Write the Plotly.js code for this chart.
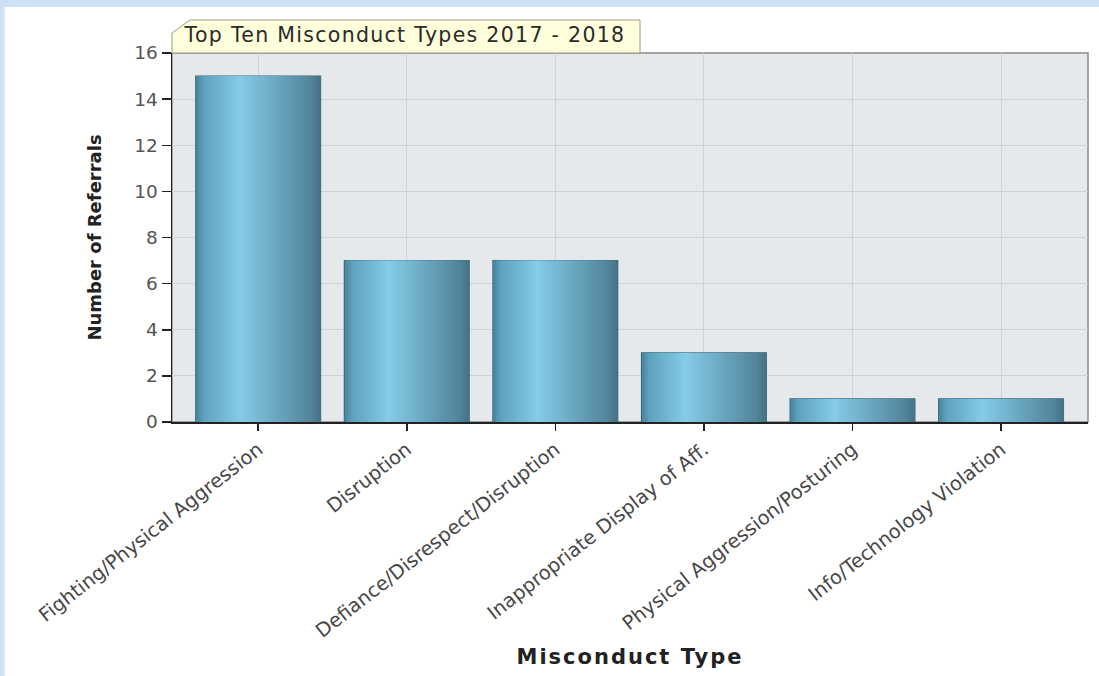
<!DOCTYPE html>
<html>
<head>
<meta charset="utf-8">
<script src="https://cdn.plot.ly/plotly-3.0.1.min.js"></script>
<style>
  html, body { margin: 0; padding: 0; width: 1099px; height: 676px; overflow: hidden;
    background: linear-gradient(to right, #c9ddf4 0px, #dbe8f8 5px, #ffffff 6px); }
  #topband { position: absolute; left: 0; top: 0; width: 1099px; height: 7px; background: #cde0f6; }
  #chart { position: absolute; left: 5px; top: 7px; width: 1094px; height: 669px; }
  #chart .annotation-text { letter-spacing: 1.3px; }
  #chart .xtitle { letter-spacing: 2px; }
</style>
</head>
<body>
<div id="topband"></div>
<div id="chart"></div>
<script>
// ---- data ----
const categories = [
  "Fighting/Physical Aggression",
  "Disruption",
  "Defiance/Disrespect/Disruption",
  "Inappropriate Display of Aff.",
  "Physical Aggression/Posturing",
  "Info/Technology Violation"
];
const referrals = [15, 7, 7, 3, 1, 1];
const yTickValues = [0, 2, 4, 6, 8, 10, 12, 14, 16];
const chartTitle = "Top Ten Misconduct Types 2017 - 2018";
const xTitle = "Misconduct Type";
const yTitle = "Number of Referrals";

// ---- styling helpers (cylindrical shading made of overlaid bar stripes) ----
const BAR_W = 0.84;
const N_STRIPES = 44;
const stops = [
  [0.00, [72, 132, 158]],
  [0.06, [94, 162, 190]],
  [0.35, [132, 204, 231]],
  [0.65, [106, 166, 192]],
  [0.92, [82, 132, 154]],
  [1.00, [68, 112, 132]]
];
function colorAt(t) {
  for (let i = 0; i < stops.length - 1; i++) {
    const [t0, c0] = stops[i], [t1, c1] = stops[i + 1];
    if (t >= t0 && t <= t1) {
      const f = (t - t0) / (t1 - t0);
      const c = c0.map((v, k) => Math.round(v + (c1[k] - v) * f));
      return `rgb(${c[0]},${c[1]},${c[2]})`;
    }
  }
  return 'rgb(68,112,132)';
}

const traces = [];
traces.push({
  type: 'bar', x: categories, y: referrals, width: BAR_W,
  marker: { color: 'rgb(78,130,152)', line: { color: 'rgb(60,100,118)', width: 1.2 } },
  hoverinfo: 'x+y', showlegend: false
});
const sw = BAR_W / N_STRIPES;
for (let i = 0; i < N_STRIPES; i++) {
  const off = -BAR_W / 2 + i * sw;
  const w = Math.min(sw * 2, BAR_W - i * sw) - 0.003;
  traces.push({
    type: 'bar', x: categories, y: referrals,
    width: w, offset: off + 0.003,
    marker: { color: colorAt((i + 0.5) / N_STRIPES), line: { width: 0 } },
    hoverinfo: 'skip', showlegend: false
  });
}

const layout = {
  width: 1094, height: 669,
  margin: { l: 167, r: 11, t: 46, b: 254 },
  paper_bgcolor: '#ffffff',
  plot_bgcolor: '#e6e9ec',
  barmode: 'overlay',
  showlegend: false,
  font: { family: 'DejaVu Sans, Arial, sans-serif', color: '#555555' },
  xaxis: {
    type: 'category',
    range: [-0.58, 5.585],
    showgrid: true, gridcolor: '#d0d3d6', gridwidth: 1,
    showline: true, linecolor: '#222222', linewidth: 1.5,
    ticks: 'outside', ticklen: 7, tickcolor: '#222222', tickwidth: 1.5,
    tickangle: -38,
    tickfont: { family: 'DejaVu Sans, Arial, sans-serif', size: 19.5, color: '#474747' },
    automargin: false,
    title: { text: xTitle, standoff: 8,
      font: { family: 'DejaVu Sans, Arial, sans-serif', size: 21, color: '#222222', weight: 'bold' } },
    fixedrange: true
  },
  yaxis: {
    range: [0, 16],
    tickvals: yTickValues,
    showgrid: true, gridcolor: '#d0d3d6', gridwidth: 1,
    zeroline: false,
    showline: true, linecolor: '#222222', linewidth: 1.5,
    ticks: 'outside', ticklen: 9, tickcolor: '#222222', tickwidth: 1.5,
    tickfont: { family: 'DejaVu Sans, Arial, sans-serif', size: 18.5, color: '#555555' },
    automargin: false,
    title: { text: yTitle, standoff: 28,
      font: { family: 'DejaVu Sans, Arial, sans-serif', size: 18, color: '#222222', weight: 'bold' } },
    fixedrange: true
  },
  shapes: [
    { type: 'rect', xref: 'paper', yref: 'paper', x0: 0, x1: 1, y0: 0, y1: 1,
      line: { color: '#8a8a8a', width: 1.5 }, fillcolor: 'rgba(0,0,0,0)', layer: 'below' },
    { type: 'path', xref: 'paper', yref: 'paper', xsizemode: 'pixel', ysizemode: 'pixel',
      xanchor: 0, yanchor: 1,
      path: 'M0,0 L0,20 L18,33 L468,33 L468,0 Z',
      fillcolor: '#ffffdc', line: { color: '#9a9a8a', width: 1 }, layer: 'above' }
  ],
  annotations: [
    { text: chartTitle, xref: 'paper', yref: 'paper', x: 0, y: 1,
      xanchor: 'left', yanchor: 'bottom', xshift: 33, yshift: 4, showarrow: false,
      font: { family: 'DejaVu Sans, Arial, sans-serif', size: 20.5, color: '#2a2a2a' } }
  ]
};

Plotly.newPlot('chart', traces, layout, { displayModeBar: false, staticPlot: true });
</script>
</body>
</html>
